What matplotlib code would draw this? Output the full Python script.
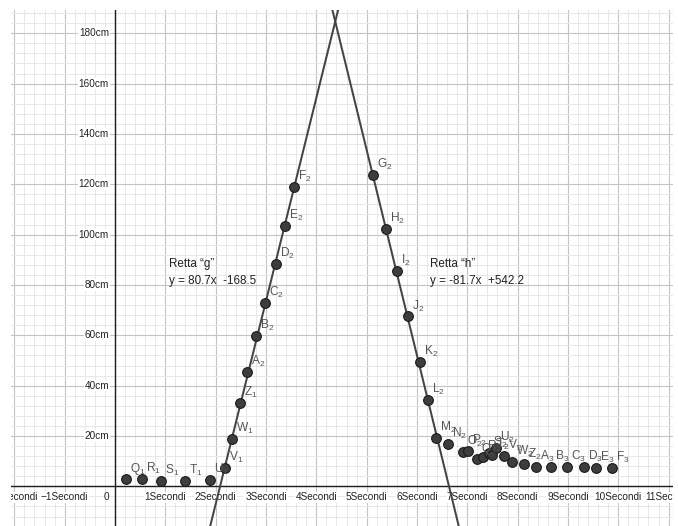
import matplotlib
matplotlib.use("Agg")
import matplotlib.pyplot as plt
import numpy as np

plt.rcParams['font.family'] = ['Liberation Sans', 'DejaVu Sans']
plt.rcParams['mathtext.default'] = 'regular'

# ---- data ----
point_names = ["Q_1", "R_1", "S_1", "T_1", "U_1", "V_1", "W_1", "Z_1",
               "A_2", "B_2", "C_2", "D_2", "E_2", "F_2",
               "G_2", "H_2", "I_2", "J_2", "K_2", "L_2", "M_2", "N_2",
               "O_2", "P_2", "Q_2", "R_2", "S_2", "T_2", "U_2", "V_2", "W_2", "Z_2",
               "A_3", "B_3", "C_3", "D_3", "E_3", "F_3"]
time_s = [0.21, 0.53, 0.91, 1.39, 1.89, 2.19, 2.33, 2.48,
          2.62, 2.80, 2.99, 3.20, 3.38, 3.56,
          5.12, 5.38, 5.61, 5.82, 6.07, 6.21, 6.38, 6.62,
          6.91, 7.01, 7.19, 7.31, 7.44, 7.50, 7.58, 7.72, 7.89, 8.12,
          8.36, 8.66, 8.98, 9.31, 9.56, 9.87]
height_cm = [2.8, 3.0, 2.2, 2.0, 2.4, 7.2, 18.8, 33.2,
             45.5, 59.7, 72.8, 88.3, 103.4, 119.0,
             123.7, 102.1, 85.4, 67.5, 49.3, 34.2, 19.1, 16.8,
             13.5, 14.1, 10.7, 11.6, 13.4, 12.3, 15.3, 12.0, 9.5, 8.7,
             7.7, 7.7, 7.8, 7.8, 7.4, 7.4]

line_names = ["g", "h"]
line_slopes = [80.7, -81.7]
line_intercepts = [-168.5, 542.2]
line_label_x = [1.08, 6.26]

x_ticks = list(range(-2, 12))
y_ticks = list(range(20, 200, 20))

# ---- figure ----
W, H = 678, 526
fig = plt.figure(figsize=(W / 100, H / 100), dpi=100)
ax = fig.add_axes([11 / W, 0, (673 - 11) / W, 516 / H])

for s in ax.spines.values():
    s.set_visible(False)

ax.set_xticks(x_ticks)
ax.set_yticks([-20, 0] + y_ticks)
ax.set_xticks(np.arange(-3, 12.01, 0.2), minor=True)
ax.set_yticks(np.arange(-20, 200.1, 4), minor=True)
ax.set_xlim(-2.066, 11.087)
ax.set_ylim(-15.77, 189.25)
ax.tick_params(which='both', length=0, labelbottom=False, labelleft=False)
ax.set_axisbelow(True)
ax.grid(which='minor', color='#e8e8e8', linewidth=0.72)
ax.grid(which='major', color='#c4c4c4', linewidth=0.8)

ax.axhline(0, color='#1e1e1e', linewidth=1.0, zorder=1.5)
ax.axvline(0, color='#1e1e1e', linewidth=1.0, zorder=1.5)

# tick labels (GeoGebra style, on the axes, with white background)
TICK_FS = 7.2
for xv in x_ticks:
    if xv == 0:
        continue
    lab = (f"\u2212{abs(xv)}" if xv < 0 else f"{xv}") + "Secondi"
    ax.annotate(lab, (xv, 0), xytext=(0, -11), textcoords='offset pixels',
                ha='center', va='center', fontsize=TICK_FS, color='#222222',
                clip_on=True, zorder=2,
                bbox=dict(facecolor='white', edgecolor='none', pad=0.6))
ax.annotate("0", (0, 0), xytext=(-9, -11), textcoords='offset pixels',
            ha='center', va='center', fontsize=TICK_FS, color='#222222', zorder=2)
for yv in y_ticks:
    ax.annotate(f"{yv}cm", (0, yv), xytext=(-6, 0), textcoords='offset pixels',
                ha='right', va='center', fontsize=TICK_FS, color='#222222', zorder=2,
                clip_on=True,
                bbox=dict(facecolor='white', edgecolor='none', pad=0.6))

# regression lines
xx = np.array([-3.0, 12.0])
for name, m, q, lx in zip(line_names, line_slopes, line_intercepts, line_label_x):
    ax.plot(xx, m * xx + q, color='#444444', linewidth=1.45, zorder=2.5)
    sign = "+" if q >= 0 else "-"
    ax.text(lx, 87.0, f"Retta \u201c{name}\u201d", fontsize=8.4, color='#222222',
            ha='left', va='baseline', zorder=4)
    ax.text(lx, 80.2, f"y = {m}x  {sign}{abs(q)}", fontsize=8.4, color='#222222',
            ha='left', va='baseline', zorder=4)

# points
ax.plot(time_s, height_cm, linestyle='none', marker='o', markersize=7.0,
        markerfacecolor='#3d3d3d', markeredgecolor='#1a1a1a', markeredgewidth=0.8,
        zorder=3)
for nm, xv, yv in zip(point_names, time_s, height_cm):
    letter, sub = nm.split("_")
    ax.annotate(f"{letter}$_{{{sub}}}$", (xv, yv), xytext=(4, 7),
                textcoords='offset pixels', ha='left', va='baseline',
                fontsize=8.6, color='#555555', zorder=4)

fig.savefig("out.png", dpi=100)
